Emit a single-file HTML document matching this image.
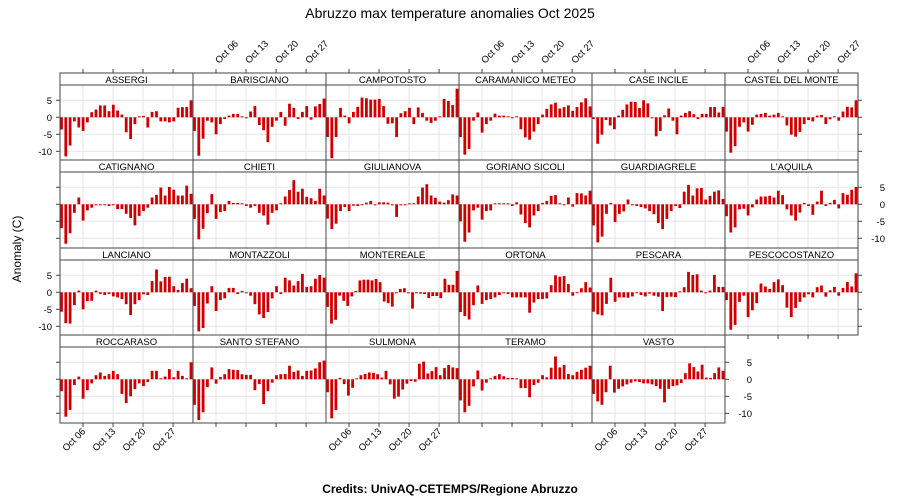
<!DOCTYPE html>
<html><head><meta charset="utf-8"><style>
html,body{margin:0;padding:0;background:#fff;}
svg{display:block;font-family:"Liberation Sans",sans-serif;}
</style></head><body>
<svg id="s" width="900" height="500" xmlns="http://www.w3.org/2000/svg">
<text x="450" y="18" font-size="14" text-anchor="middle">Abruzzo max temperature anomalies Oct 2025</text>
<text transform="translate(21,249) rotate(-90)" font-size="12" text-anchor="middle">Anomaly (C)</text>
<text x="450" y="493" font-size="12" font-weight="bold" text-anchor="middle">Credits: UnivAQ-CETEMPS/Regione Abruzzo</text>
</svg>
<script>
const D={
"ASSERGI":[-3.6,-11.5,-8.3,-1.2,-3,-4,-1.5,1.5,2.3,3.5,3.5,1.8,3.7,2,0.8,-4.4,-6.4,-2,0,0.4,-3,1.6,1.8,-1.2,-1.2,-1.5,-1.2,2.8,3,3,5],
"BARISCIANO":[-4,-11.3,-6.3,-1,-1.5,-5,-2,-0.5,0.5,1,1,0.3,-0.3,1.7,3.3,-2.3,-3.8,-7.3,-2.8,-1,1.6,-2.5,4,2.8,-0.5,1.6,3.3,-0.7,3.2,3.9,5.5],
"CAMPOTOSTO":[-5.8,-12,-5.8,2.8,0.5,-1.8,1.6,3.1,5.8,5.6,5.2,5.2,5.4,3.3,-1.9,-1.8,-5.8,1.2,1.8,2.8,-2,2.9,1.3,-1,-1.7,-1,0.3,5.4,4.8,3.6,8.4],
"CARAMANICO METEO":[-5.8,-11,-9.3,-1,1.4,-4.5,-2,-1,1.1,0.5,0.5,0.3,-0.3,0.3,-3.5,-5.9,-6.6,-4.2,-2,0.8,2.5,3.8,4.3,2.6,3,3.5,1.9,3,4.4,5.6,3.2],
"CASE INCILE":[-0.5,-7.8,-5.1,-0.8,-2.4,-3.5,0.5,2.2,3.8,4.6,4.5,2.7,5,4.1,-0.3,-5.6,-4,0.6,2.6,-1,-5,0.5,1.3,1.8,0.9,-0.5,1,1,3,3,1.4,3.1],
"CASTEL DEL MONTE":[-4.2,-10.4,-8.5,-2.8,-1.5,-4.2,-2.2,0.8,1,1.3,0.5,0.8,1.3,0.2,-2.4,-5.1,-5.7,-4.3,-2,-0.8,-1.2,0.5,0.7,-2,-0.6,0.3,-1,1.7,3.1,2.9,5],
"CATIGNANO":[-7,-11.6,-8.5,-2.5,2,-4.8,-1.8,-1,-0.3,-0.3,-0.3,-0.5,-0.3,-1.4,-1.4,-2.8,-4,-6.2,-3.4,-2,-1,2,2.8,4.9,2.6,5.1,4.3,2.6,2.6,5.5,3.1],
"CHIETI":[-4.3,-10.3,-7.2,-2.6,3,-4.3,-2.3,-2,1,0.4,0.4,0,-0.5,-1,-0.5,-2.5,-3.3,-6,-2.5,-1.8,0,2.3,4.2,7.1,3.7,4.6,2.2,1.8,1,4.6,2.6],
"GIULIANOVA":[-4.2,-7.3,-5.7,-2,-0.8,-2,-0.4,-0.5,-0.3,0.5,1,-0.2,0.6,0.6,0.5,-0.3,-3.7,-0.3,-0.2,0.1,0.1,2.3,4.9,5.9,2.6,1.9,0.8,0.5,1.2,2.9,2.6],
"GORIANO SICOLI":[-5,-11,-8.3,-1.8,-1,-4.5,-2,-1.8,0.3,0.3,0.3,0.3,-0.5,0.6,-3,-5.5,-6.8,-3.3,-2,0.4,1,2.5,2.7,0.3,-0.3,2,-0.7,3.3,3.2,2.6,4],
"GUARDIAGRELE":[-6.2,-11.2,-9.5,-2.8,0.4,-5.2,-2.8,-2.1,1.4,-0.3,-0.5,-0.8,-1.2,-2,-2.9,-5.5,-7.3,-4.3,-2,-0.5,-1.1,3.7,5.7,2.6,4.7,4.8,1.4,2.5,3.7,4.1,1.6],
"L'AQUILA":[-3.5,-8.3,-6.8,-1.5,-1.3,-3.3,-0.9,1.4,2.3,2.3,2.5,2,4,2.7,-1.5,-3.3,-4.8,-2.4,0.4,-0.5,-3.1,0.8,4,-0.5,0.4,1.3,-1.2,3.3,2.8,4.3,5.1],
"LANCIANO":[-5.7,-9.1,-9.2,-3.8,0.5,-5,-2.6,-2.5,0.5,-0.5,-0.8,-0.5,-1.2,-1.5,-2,-3.5,-6.7,-3.5,-2.3,-0.6,-0.8,3.3,6.7,3.2,4.5,4.6,1.8,0.7,2.7,4,1.2],
"MONTAZZOLI":[-4,-11.5,-10.5,-3.3,1.8,-5.5,-2.3,-1.8,1.3,1.3,-0.5,0.4,-0.2,-1,-3.5,-6.5,-7.6,-5.8,-1.8,1.8,-0.5,4.3,3.5,2,3.3,5.4,1.6,1.8,4,5.1,4.3],
"MONTEREALE":[-4.3,-9.2,-8.1,-1,-2.5,-4,-1.2,0.4,3.5,3.7,3.7,3.5,3.9,3,-2.7,-3.2,-4.2,-0.2,1,1.2,-0.3,-4.8,-0.3,-0.4,-0.5,-1.7,-1.1,-1.1,-1.7,4,2.2,2.2,6.3],
"ORTONA":[-5.8,-7,-8,-3.8,2,-3.4,-2.3,-2,-1.5,-0.8,-0.3,-0.5,-1.5,-1.5,-1.5,-1.5,-6,-3,-2,-2,-1.8,2.1,5,4.6,4.8,2.4,-1,-0.2,1.2,3,1.4],
"PESCARA":[-5.7,-6.5,-6.8,-3.4,4.3,-2.8,-1.5,-1.5,-1.6,-1.2,-0.3,-0.8,-1.2,-0.4,-1,-1.3,-5.5,-1.4,-1.3,-1.4,0.3,1.5,6,5.1,5.3,0.5,-0.3,0.5,5.1,1.6,1.6],
"PESCOCOSTANZO":[-2.3,-11,-9.6,-2.8,-1,-7.3,-5.3,-3.2,2.6,1.7,1,3,3.8,2.1,-4.5,-7.3,-4.6,-2.8,-1.5,-0.6,-1.5,1.5,2,-1.3,0.6,1.6,-1,1.3,3,1.7,5.6],
"ROCCARASO":[-3.5,-11,-9,-1.7,0.8,-5.7,-3.2,-1.2,1.2,2,1,1.5,2.5,1.5,-4.3,-7,-5,-2.9,-1.2,-2,-0.8,2.5,2.5,0.3,0.8,3,0.6,2.5,1,0.3,5],
"SANTO STEFANO":[-7.5,-12,-9.7,-2.3,3.5,-1.3,0.7,1.5,3,2.8,2.7,1.5,1.3,1.3,-3.2,-1.4,-7.3,-3.5,-1,1.2,1.5,1.6,4,2.2,2.6,1,2.5,2.6,3.2,5,5.5],
"SULMONA":[-3.8,-11.5,-9,0.4,-1.4,-4.8,-2.5,0.1,1.2,1.6,2,1.9,1.5,0.5,2.5,-1.5,-5.7,-5.1,-3,-1.3,-0.5,-0.7,4.6,5.2,1.7,2.4,3.6,1.2,3.3,4.2,3.5,3.3],
"TERAMO":[-6.2,-9.7,-7.8,-2.1,2.6,-3.3,-1,0.3,1,1.5,0.9,0.4,0.4,0.3,-2.6,-2.6,-5.3,-1.7,-1,1.2,0.6,3.4,6.7,3.5,4.2,1.6,1.2,2.2,2.8,3.4,4],
"VASTO":[-4.3,-6.5,-7.5,-3.8,4,-3.9,-2.8,-2.1,-1.5,-1,-0.6,-0.8,-1.2,-1.2,-1.5,-2,-2.8,-6.8,-2.8,-2,-1.8,-1.1,1.8,4.7,3.6,2.3,4.3,0.5,0.4,1.8,3.5,2.5]
};
const names=Object.keys(D);
const s=document.getElementById('s');
let h='';
const cx=[60,193,326,459,592,725,858];
const rows=[[73,85,160],[160,172,248],[248,260,335],[335,347,423]];
const U=3.4;
const ticks=[0,7,14,21].map(k=>83+k*4.29);
const tl=["Oct 06","Oct 13","Oct 20","Oct 27"];
names.forEach((n,i)=>{
 const r=Math.floor(i/6),c=i%6;
 const x0=cx[c],x1=cx[c+1],[st,pt,pb]=rows[r];
 const z=pt+32.3;
 const off=x0-60;
 h+=`<rect x="${x0}" y="${pt}" width="${x1-x0}" height="${pb-pt}" fill="#fff"/>`;
 ticks.forEach(t=>{h+=`<line x1="${t+off}" x2="${t+off}" y1="${pt}" y2="${pb}" stroke="#e6e6e6" stroke-width="1"/>`;});
 [5,0,-5,-10].forEach(v=>{h+=`<line x1="${x0}" x2="${x1}" y1="${z-v*U}" y2="${z-v*U}" stroke="#e6e6e6" stroke-width="1"/>`;});
 const a=D[n],m=a.length;
 a.forEach((v,k)=>{
  const x=x0+1.5+k*(129.5/(m-1));
  const hh=Math.max(Math.abs(v)*U,1);
  h+=`<rect x="${(x-1.4).toFixed(1)}" y="${(v>=0?z-hh:z).toFixed(1)}" width="2.8" height="${hh.toFixed(1)}" fill="#d00000"/>`;
 });
 h+=`<rect x="${x0}" y="${pt}" width="${x1-x0}" height="${pb-pt}" fill="none" stroke="#444" stroke-width="1"/>`;
 h+=`<rect x="${x0}" y="${st}" width="${x1-x0}" height="${pt-st}" fill="#fff" stroke="#444" stroke-width="1"/>`;
 h+=`<text x="${(x0+x1)/2}" y="${st+10}" font-size="9.5" text-anchor="middle">${n.replace("'","&#39;")}</text>`;
 const lab=[5,0,-5,-10];
 if(c==0 && (r==0||r==2)){lab.forEach(v=>{h+=`<line x1="${x0-4}" x2="${x0}" y1="${z-v*U}" y2="${z-v*U}" stroke="#444"/><text x="${x0-8}" y="${z-v*U+3.5}" font-size="9.5" text-anchor="end">${v}</text>`;});}
 if(c==0 && (r==1||r==3)){lab.forEach(v=>{h+=`<line x1="${x0-4}" x2="${x0}" y1="${z-v*U}" y2="${z-v*U}" stroke="#444"/>`;});}
 const last=(r==3)?4:5;
 if(c==last){lab.forEach(v=>{h+=`<line x1="${x1}" x2="${x1+4}" y1="${z-v*U}" y2="${z-v*U}" stroke="#444"/>`; if(r==1||r==3) h+=`<text x="${x1+27}" y="${z-v*U+3.5}" font-size="9.5" text-anchor="end">${v}</text>`;});}
 if(r==0){ticks.forEach((t,k)=>{h+=`<line x1="${t+off}" x2="${t+off}" y1="${st-4}" y2="${st}" stroke="#444"/>`; if(c%2==1) h+=`<text transform="translate(${t+off+3},${st-9}) rotate(-45)" font-size="9.5" text-anchor="start">${tl[k]}</text>`;});}
 if(r==3 || (r==2 && c==5)){ticks.forEach((t,k)=>{h+=`<line x1="${t+off}" x2="${t+off}" y1="${pb}" y2="${pb+4}" stroke="#444"/>`; if(r==3 && c%2==0) h+=`<text transform="translate(${t+off+3},${pb+9}) rotate(-45)" font-size="9.5" text-anchor="end">${tl[k]}</text>`;});}
});
s.insertAdjacentHTML('beforeend',h);
</script>
</body></html>
